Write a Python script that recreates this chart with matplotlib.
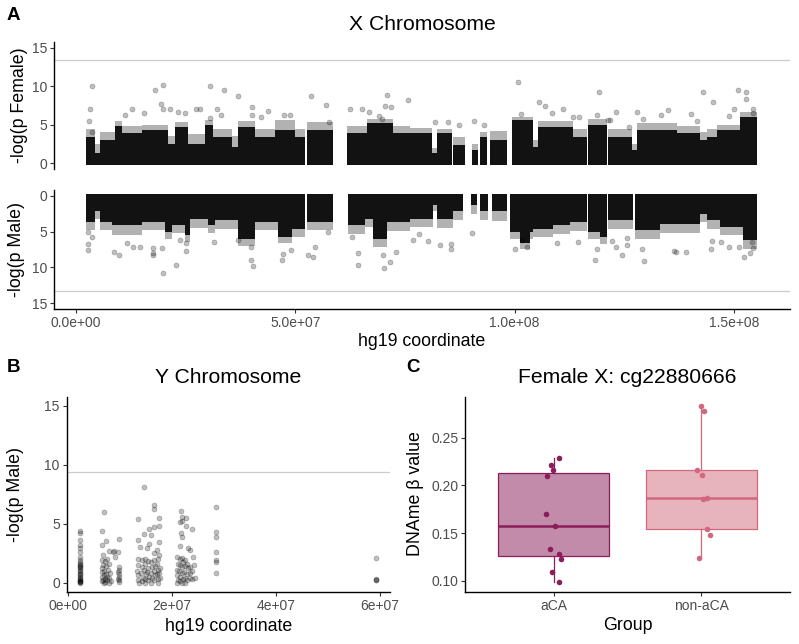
import matplotlib
matplotlib.use("Agg")
import matplotlib.pyplot as plt
import numpy as np

plt.rcParams['font.family'] = ['Liberation Sans', 'DejaVu Sans']

# ---------------- DATA ----------------
# Panel A, X chromosome (positions in Mb). Dense band summarised per segment.
fem_seg_start = [2.3, 4.3, 5.5, 8.9, 10.5, 15.1, 21.0, 22.6, 25.5, 29.4, 31.2, 35.6, 36.9, 40.8, 45.4,
                 49.9, 52.7, 61.8, 66.4, 72.3, 76.2, 81.2, 82.3, 86.0, 90.3, 92.1, 94.4, 99.4, 104.2, 105.3,
                 113.3, 116.7, 121.3, 126.8, 127.9, 137.0, 142.3, 143.9, 146.2, 151.4]
fem_seg_end = [4.3, 5.5, 8.9, 10.5, 15.1, 21.0, 22.6, 25.5, 29.4, 31.2, 35.6, 36.9, 40.8, 45.4, 49.9,
               52.2, 58.6, 66.4, 72.3, 76.2, 81.2, 82.3, 85.7, 88.7, 91.7, 93.7, 98.3, 104.2, 105.3, 113.3,
               116.5, 121.1, 126.8, 127.9, 137.0, 142.3, 143.9, 146.2, 151.4, 155.3]
fem_core = [3.4, 1.3, 3.0, 4.8, 3.9, 4.3, 2.5, 4.7, 2.5, 5.0, 3.4, 2.1, 4.7, 3.4, 4.3, 3.4, 4.3, 3.9, 5.2, 3.9,
            3.9, 1.3, 3.9, 2.3, 1.7, 3.4, 3.0, 5.6, 2.1, 4.7, 3.4, 5.0, 3.4, 1.7, 4.3, 3.9, 3.0, 3.4, 4.3, 6.0]
fem_halo = [4.5, 2.5, 4.0, 5.5, 4.8, 5.0, 3.5, 5.4, 3.8, 5.6, 4.5, 3.5, 5.5, 4.5, 5.6, 4.5, 5.3, 4.8, 5.8, 4.8,
            4.6, 2.0, 4.5, 3.4, 2.5, 4.0, 4.2, 6.0, 3.0, 5.5, 4.5, 5.8, 4.5, 2.5, 5.2, 4.8, 4.0, 4.5, 5.0, 6.6]
fem_out_pos = [3.7, 3.2, 2.9, 3.6, 17.9, 19.9, 19.4, 19.8, 21.4, 12.7, 11.1, 15.4, 23.3, 24.9, 27.4, 28.2,
               30.6, 33.7, 37.0, 32.1, 33.0, 30.6, 40.1, 42.1, 43.7, 40.1, 47.4, 48.8, 53.6, 57.0, 57.7,
               62.5, 65.1, 66.8, 70.8, 70.5, 71.8, 69.1, 69.7, 75.8, 100.8, 119.2, 105.6, 106.9, 111.0,
               101.5, 81.9, 87.4, 90.7, 93.0, 84.8, 108.6, 113.3, 114.7, 118.8, 121.4, 142.9, 151.0, 152.8,
               152.7, 145.3, 150.0, 154.3, 154.3, 135.0, 127.8, 123.2, 140.2, 133.4, 129.2, 141.6, 148.9,
               126.2, 121.8]
fem_out_logp = [10.1, 7.1, 5.5, 4.1, 9.5, 10.2, 7.7, 7.0, 7.1, 7.1, 6.2, 6.5, 6.6, 6.5, 7.1, 7.0,
                10.0, 9.5, 8.7, 7.1, 6.3, 5.9, 7.3, 6.0, 6.8, 6.3, 6.3, 6.3, 8.7, 7.6, 5.3,
                7.0, 7.1, 6.7, 8.9, 7.5, 7.3, 6.1, 5.7, 8.2, 10.5, 9.3, 7.9, 7.5, 7.1,
                6.4, 5.3, 4.9, 5.5, 5.0, 5.4, 6.5, 6.0, 6.0, 6.3, 5.6, 9.2, 9.5, 9.3,
                8.3, 8.0, 7.1, 7.0, 6.5, 6.9, 6.7, 6.6, 6.4, 6.2, 5.7, 5.5, 6.1,
                4.7, 5.6]

male_seg_start = [2.3, 4.3, 5.5, 8.2, 15.1, 20.3, 21.9, 24.9, 26.0, 30.1, 31.7, 36.9, 40.8, 46.1, 49.3,
                  52.7, 62.0, 65.9, 67.7, 70.9, 76.2, 81.4, 82.3, 86.0, 90.1, 92.1, 94.9, 99.0, 101.2, 103.5,
                  104.2, 108.8, 112.6, 116.7, 119.5, 121.3, 127.5, 133.2, 142.3, 143.9, 146.8, 152.1]
male_seg_end = [4.3, 5.5, 8.2, 15.1, 20.3, 21.9, 24.9, 26.0, 30.1, 31.7, 36.9, 40.8, 46.1, 49.3, 52.2,
                58.6, 65.9, 67.7, 70.9, 76.2, 81.4, 82.3, 86.0, 88.2, 91.4, 93.9, 98.3, 101.2, 103.5, 104.2,
                108.8, 112.6, 116.5, 119.5, 121.1, 127.0, 133.2, 142.3, 143.9, 146.8, 152.1, 155.3]
male_core = [3.6, 2.2, 3.6, 4.1, 3.6, 5.0, 4.1, 5.5, 3.2, 4.1, 3.4, 6.0, 3.6, 5.7, 4.6, 3.6, 4.1, 3.2, 6.0, 3.6,
             3.2, 1.3, 3.2, 2.2, 1.3, 2.2, 2.2, 5.0, 6.6, 5.0, 4.6, 4.1, 3.6, 5.0, 5.7, 3.4, 4.8, 3.9, 2.5, 3.4,
             4.3, 6.2]
male_halo = [4.8, 3.2, 4.8, 5.5, 4.8, 6.0, 5.2, 6.5, 4.5, 5.2, 4.6, 7.0, 4.8, 6.6, 5.8, 4.8, 5.3, 4.4, 7.2, 4.9,
             4.4, 2.2, 4.5, 3.4, 2.5, 3.4, 3.5, 6.0, 7.4, 6.0, 5.8, 5.4, 4.9, 6.0, 6.8, 4.6, 6.0, 5.2, 3.7, 4.6,
             5.5, 7.4]
male_out_pos = [2.8, 2.8, 2.8, 3.6, 8.7, 9.9, 11.6, 13.0, 14.7, 17.5, 17.5, 17.6, 19.8, 19.7, 22.8, 25.0,
                25.0, 23.6, 31.5, 37.0, 39.8, 39.8, 40.4, 46.9, 47.3, 49.0, 53.0, 54.1, 54.5, 57.5, 64.2,
                64.2, 70.3, 71.6, 73.0, 62.9, 70.0, 76.9, 78.3, 80.3, 83.0, 85.4, 85.4, 90.4, 100.1, 102.8,
                101.6, 109.6, 114.4, 118.3, 118.7, 122.1, 123.1, 124.6, 125.6, 125.6, 129.4, 129.0, 136.3,
                139.0, 136.8, 144.9, 145.1, 147.0, 148.9, 151.2, 152.3, 153.7, 154.4, 154.1]
male_out_logp = [7.6, 6.7, 5.0, 5.7, 7.8, 8.3, 6.6, 7.2, 7.2, 7.3, 8.0, 8.2, 10.8, 7.3, 9.7, 7.7,
                 6.6, 6.2, 6.4, 6.2, 8.9, 7.2, 9.8, 8.9, 8.1, 7.6, 8.3, 8.6, 7.2, 5.1, 8.0,
                 9.7, 10.1, 9.2, 7.8, 5.7, 8.2, 6.2, 5.4, 6.3, 6.9, 6.7, 7.4, 5.2, 7.4, 7.1,
                 6.2, 6.6, 6.4, 9.0, 7.4, 6.3, 7.2, 8.3, 6.9, 5.9, 9.1, 7.4, 7.7,
                 7.9, 7.9, 7.4, 6.3, 6.5, 7.1, 7.2, 8.6, 8.0, 7.3, 6.4]
x_thresh_female = 13.4
x_thresh_male = 13.3
x_ticks_mb = [0, 50, 100, 150]
x_tick_labels = ['0.0e+00', '5.0e+07', '1.0e+08', '1.5e+08']

# Panel B, Y chromosome (positions in Mb)
y_pos = [2.4, 2.4, 2.4, 2.4, 2.4, 2.4, 2.4, 2.4, 2.4, 2.4, 2.4, 2.4, 2.4, 2.4, 2.4, 2.4, 2.4, 2.4, 2.4,
         2.4, 2.4, 2.4, 2.4, 2.4, 2.4, 2.4, 2.4, 2.4,
         7.0, 6.5, 7.3, 6.6, 7.9, 6.8, 7.6, 6.5, 7.2, 8.0, 6.7, 7.4, 6.5, 7.8, 7.0, 6.6, 8.2, 7.3, 6.9,
         7.6, 6.5, 8.0, 7.1, 6.7, 7.5, 8.3, 6.6, 7.2, 7.9, 6.9,
         9.8, 8.9, 9.6, 9.8, 9.8, 9.7, 9.8, 9.8, 9.7, 9.8, 9.8, 9.1, 8.6,
         14.6, 16.6, 16.6, 13.4, 17.5, 17.5, 16.6, 15.7, 14.6, 15.9, 13.4, 17.5, 13.9, 15.7, 15.2, 17.1,
         16.6, 17.5, 17.4,
         13.4, 13.5, 13.3, 13.4, 13.5, 13.6, 14.2, 14.3, 14.1, 14.4, 14.2, 14.8, 14.9, 14.7, 15.0, 14.8,
         14.9, 15.4, 15.5, 15.3, 15.6, 15.4, 16.0, 16.1, 15.9, 16.2, 16.0, 16.6, 16.7, 16.5, 16.8, 16.6,
         17.2, 17.3, 17.1, 17.4, 17.3, 17.7, 17.6, 17.7,
         21.7, 21.9, 22.7, 21.9, 21.6, 22.7, 23.8, 21.7, 21.9, 21.6, 23.1, 23.5, 24.0, 24.3, 24.4,
         21.0, 21.1, 20.9, 21.0, 21.1, 20.9, 21.5, 21.6, 21.4, 21.5, 21.6, 22.0, 22.1, 21.9, 22.0, 22.1,
         22.0, 22.5, 22.6, 22.4, 22.5, 22.6, 23.0, 23.1, 22.9, 23.0, 23.5, 23.4, 23.5, 23.8, 23.9,
         28.5, 28.5, 28.5, 28.5, 28.5, 28.5, 28.5,
         59.2, 59.2, 59.2, 59.2]
y_logp = [4.4, 4.2, 3.65, 3.2, 2.9, 2.6, 2.2, 1.9, 1.75, 1.6, 1.5, 1.4, 1.3, 1.2, 1.05, 0.95, 0.8, 0.7, 0.6,
          0.5, 0.4, 0.3, 0.25, 0.15, 0.1, 0.05, 0.02, 0.0,
          6.0, 4.4, 3.5, 3.2, 2.7, 2.3, 2.0, 1.9, 1.8, 1.6, 1.5, 1.4, 1.2, 1.1, 1.0, 0.9, 0.8, 0.7, 0.6,
          0.5, 0.45, 0.4, 0.3, 0.25, 0.2, 0.15, 0.1, 0.05, 0.0, 0.0,
          3.7, 2.7, 2.6, 1.3, 1.1, 0.9, 0.7, 0.5, 0.3, 0.2, 0.05, 2.2, 2.6,
          8.1, 6.6, 6.2, 5.4, 5.5, 4.8, 4.7, 4.5, 4.1, 4.0, 3.65, 3.4, 3.0, 3.3, 2.9, 2.75,
          2.5, 2.3, 2.0,
          2.0, 1.5, 1.0, 0.6, 0.2, 0.0, 1.9, 1.3, 0.8, 0.4, 0.1, 2.0, 1.6, 1.1, 0.7, 0.3,
          0.0, 1.8, 1.2, 0.9, 0.5, 0.2, 1.7, 1.3, 0.8, 0.4, 0.0, 1.9, 1.4, 1.0, 0.6, 0.2,
          1.6, 1.1, 0.7, 0.3, 0.0, 1.2, 0.8, 0.4,
          6.1, 5.6, 5.5, 5.2, 5.1, 4.8, 4.5, 4.2, 3.9, 3.1, 2.9, 2.75, 2.2, 1.5, 0.4,
          2.2, 1.6, 1.1, 0.6, 0.2, 0.0, 2.0, 1.5, 1.0, 0.5, 0.1, 2.1, 1.7, 1.3, 0.8, 0.3,
          0.0, 1.9, 1.4, 0.9, 0.4, 0.0, 1.6, 1.2, 0.7, 0.2, 1.3, 0.8, 0.4, 1.0, 0.3,
          6.4, 4.3, 3.9, 2.6, 1.9, 1.75, 0.8,
          2.1, 0.3, 0.2, 0.25]
y_thresh = 9.4
y_ticks_mb = [0, 20, 40, 60]
y_tick_labels = ['0e+00', '2e+07', '4e+07', '6e+07']

# Panel C
groups = ['aCA', 'non-aCA']
aca_vals = [0.2285, 0.2216, 0.2156, 0.2094, 0.1705, 0.1573, 0.1333, 0.1285, 0.1229, 0.1094, 0.0990]
aca_jit = [0.036, -0.016, -0.007, -0.043, -0.050, 0.011, -0.025, 0.036, 0.047, -0.011, 0.036]
non_vals = [0.2833, 0.2780, 0.2163, 0.2104, 0.1872, 0.1854, 0.1542, 0.1479, 0.1244]
non_jit = [-0.002, 0.018, -0.029, 0.002, 0.038, 0.013, 0.041, 0.056, -0.018]

# ---------------- FIGURE ----------------
W, H = 799, 644
fig = plt.figure(figsize=(W / 100, H / 100), dpi=100)


def ax_px(left, top, right, bottom):
    return fig.add_axes([left / W, 1 - bottom / H, (right - left) / W, (bottom - top) / H])


TXT = '#4D4D4D'


def style(ax, spines=('left', 'bottom')):
    for s in ['top', 'right', 'left', 'bottom']:
        ax.spines[s].set_visible(s in spines)
        ax.spines[s].set_linewidth(1.0)
        ax.spines[s].set_color('black')
    ax.tick_params(length=2.75, width=0.8, color='#333333', labelcolor=TXT, labelsize=10, pad=2.2)


PT_KW = dict(s=13, c='black', alpha=0.25, edgecolors='black', linewidths=0.5, zorder=3)

# --- female
axf = ax_px(54, 42.2, 790, 168.8)
style(axf, ('left',))
w = np.subtract(fem_seg_end, fem_seg_start)
axf.bar(fem_seg_start, np.array(fem_core) + 0.3, width=w, bottom=-0.3, align='edge', color='black',
        alpha=0.93, linewidth=0, zorder=2)
axf.bar(fem_seg_start, np.subtract(fem_halo, fem_core), width=w, bottom=fem_core, align='edge',
        color='black', alpha=0.3, linewidth=0, zorder=2)
axf.scatter(fem_out_pos, fem_out_logp, **PT_KW)
axf.axhline(x_thresh_female, color='#CCCCCC', lw=0.9, zorder=1)
axf.set_xlim(-5.02, 162.8)
axf.set_ylim(-0.75, 15.75)
axf.set_yticks([0, 5, 10, 15])
axf.set_xticks([])

# --- male
axm = ax_px(54, 190.3, 790, 308.7)
style(axm)
w = np.subtract(male_seg_end, male_seg_start)
axm.bar(male_seg_start, np.array(male_core) + 0.3, width=w, bottom=-0.3, align='edge', color='black',
        alpha=0.93, linewidth=0, zorder=2)
axm.bar(male_seg_start, np.subtract(male_halo, male_core), width=w, bottom=male_core, align='edge',
        color='black', alpha=0.3, linewidth=0, zorder=2)
axm.scatter(male_out_pos, male_out_logp, **PT_KW)
axm.axhline(x_thresh_male, color='#CCCCCC', lw=0.9, zorder=1)
axm.set_xlim(-5.02, 162.8)
axm.set_ylim(15.75, -0.75)
axm.set_yticks([0, 5, 10, 15])
axm.set_xticks(x_ticks_mb)
axm.set_xticklabels(x_tick_labels)

# --- panel B
axb = ax_px(66.7, 396.7, 390, 591.7)
style(axb)
axb.scatter(y_pos, y_logp, **PT_KW)
axb.axhline(y_thresh, color='#CCCCCC', lw=0.9, zorder=1)
axb.set_xlim(-0.2, 61.9)
axb.set_ylim(-0.78, 15.77)
axb.set_yticks([0, 5, 10, 15])
axb.set_xticks(y_ticks_mb)
axb.set_xticklabels(y_tick_labels)

# --- panel C
axc = ax_px(465, 396.7, 790, 591.7)
style(axc)
line_cols = ['#8C1D5B', '#D2687E']
fill_cols = ['#C28BA9', '#E7B3BD']
bp = axc.boxplot([aca_vals, non_vals], positions=[1, 2], widths=0.75, patch_artist=True,
                 showcaps=False, showfliers=False, whis=1.5, zorder=2)
for i in range(2):
    bp['boxes'][i].set(facecolor=fill_cols[i], edgecolor=line_cols[i], linewidth=0.9)
    bp['medians'][i].set(color=line_cols[i], linewidth=1.8)
    for wl in bp['whiskers'][2 * i:2 * i + 2]:
        wl.set(color=line_cols[i], linewidth=0.9)
axc.scatter(1 + np.array(aca_jit), aca_vals, s=16, color=line_cols[0], zorder=4, linewidths=0)
axc.scatter(2 + np.array(non_jit), non_vals, s=16, color=line_cols[1], zorder=4, linewidths=0)
axc.set_xlim(0.4, 2.6)
axc.set_ylim(0.0888, 0.2927)
axc.set_yticks([0.10, 0.15, 0.20, 0.25])
axc.set_yticklabels(['0.10', '0.15', '0.20', '0.25'])
axc.set_xticks([1, 2])
axc.set_xticklabels(groups)

# --- texts
def ft(x, y, s, **kw):
    fig.text(x / W, 1 - y / H, s, **kw)

ft(7, 20, 'A', fontsize=13.5, fontweight='bold', va='baseline')
ft(7, 372, 'B', fontsize=13.5, fontweight='bold', va='baseline')
ft(406, 372, 'C', fontsize=13.5, fontweight='bold', va='baseline')
ft(422, 29.5, 'X Chromosome', fontsize=15.2, ha='center', va='baseline')
ft(228.3, 383.3, 'Y Chromosome', fontsize=15.2, ha='center', va='baseline')
ft(627.5, 383.3, 'Female X: cg22880666', fontsize=15.2, ha='center', va='baseline')
ft(422, 345.5, 'hg19 coordinate', fontsize=12.8, ha='center', va='baseline')
ft(228.3, 631, 'hg19 coordinate', fontsize=12.8, ha='center', va='baseline')
ft(627.5, 630, 'Group', fontsize=12.8, ha='center', va='baseline')
ft(20, 105.5, '-log(p Female)', fontsize=12.8, ha='center', va='center', rotation=90)
ft(17, 249.5, '-log(p Male)', fontsize=12.8, ha='center', va='center', rotation=90)
ft(16, 494, '-log(p Male)', fontsize=12.8, ha='center', va='center', rotation=90)
ft(416, 494, 'DNAme β value', fontsize=12.8, ha='center', va='center', rotation=90)

fig.savefig('out.png', dpi=100)
